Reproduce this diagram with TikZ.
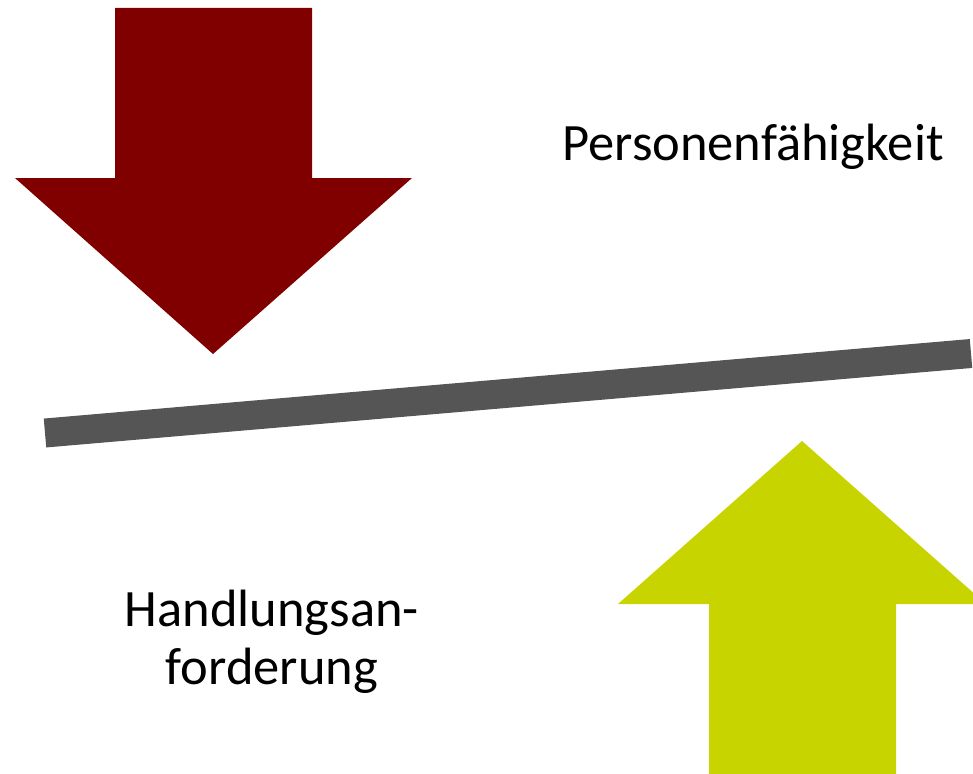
\documentclass[tikz,border=0pt]{standalone}
\usepackage{fontspec}
\setmainfont{Carlito}
\usetikzlibrary{positioning}
\definecolor{wine}{RGB}{128,0,0}
\definecolor{slate}{RGB}{85,85,85}
\definecolor{lime}{RGB}{200,212,0}
\tikzset{
  block arrow/.style={fill=#1,draw=none},
  block arrow/.default=wine,
  beam/.style={draw=slate,line width=29pt},
  word/.style={font=\fontsize{52.5}{58}\selectfont,align=center,inner sep=0pt,text=black}
}

\begin{document}
\begin{tikzpicture}[x=1pt,y=-1pt]
  \useasboundingbox (0,0) rectangle (973,773);
  \clip (0,0) rectangle (973,773);
  % downward arrow
  \fill[block arrow=wine] (115,8) -- (312,8) -- (312,178) -- (412,178) -- (213,354)
    -- (15,178) -- (115,178) -- cycle;
  % tilted beam
  \coordinate (beamL) at (45,433);
  \coordinate (beamR) at (971,353.5);
  \draw[beam] (beamL) -- (beamR);
  % upward arrow
  \fill[block arrow=lime] (709,790) -- (709,604) -- (618,604) -- (802,441) -- (986,604)
    -- (896,604) -- (896,790) -- cycle;
  % texts
  \node[word,anchor=base] (person) at (753,160) {Personenfähigkeit};
  \node[word,anchor=base] (task) at (272,684) {Handlungsan-\\forderung};
\end{tikzpicture}
\end{document}
